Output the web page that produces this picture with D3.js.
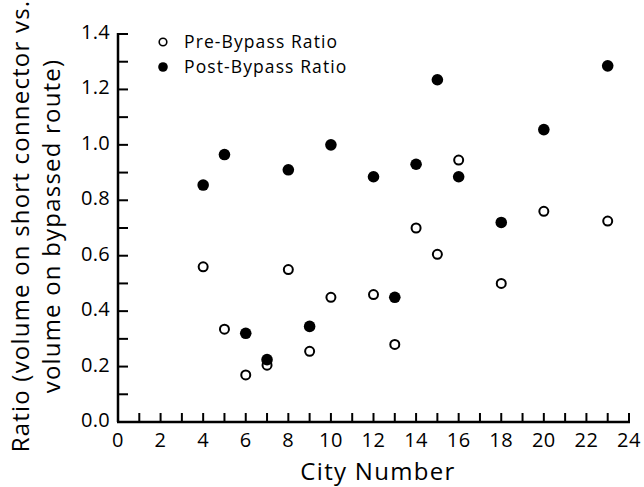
<!DOCTYPE html>
<html><head><meta charset="utf-8">
<script src="https://cdn.jsdelivr.net/npm/d3@7"></script>
<style>body{margin:0;background:#fff}svg{display:block}text{font-family:"Open Sans",sans-serif;fill:#000}</style>
</head><body><svg id="c" width="644" height="487"></svg>
<script>
const cities = [4,5,6,7,8,9,10,12,13,14,15,16,18,20,23];
const preBypass  = [0.56,0.335,0.17,0.205,0.55,0.255,0.45,0.46,0.28,0.70,0.605,0.945,0.50,0.76,0.725];
const postBypass = [0.855,0.965,0.32,0.225,0.91,0.345,1.00,0.885,0.45,0.93,1.235,0.885,0.72,1.055,1.285];
const xTickLabels = [0,2,4,6,8,10,12,14,16,18,20,22,24];
const yTickLabels = [0.0,0.2,0.4,0.6,0.8,1.0,1.2,1.4];
const seriesNames = ["Pre-Bypass Ratio","Post-Bypass Ratio"];

const svg = d3.select("#c");
const x = d3.scaleLinear().domain([0,24]).range([118,629]);
const y = d3.scaleLinear().domain([0,1.4]).range([422,34]);

const g = svg.append("g");
g.append("line").attr("x1",x(0)-1).attr("x2",x(24)+1).attr("y1",y(0)).attr("y2",y(0)).attr("stroke","#000").attr("stroke-width",2.5);
g.append("line").attr("x1",x(0)).attr("x2",x(0)).attr("y1",y(0)).attr("y2",y(1.4)-1).attr("stroke","#000").attr("stroke-width",2.5);
g.selectAll(".xt").data(d3.range(1,25)).enter().append("line")
  .attr("x1",d=>x(d)).attr("x2",d=>x(d)).attr("y1",y(0)).attr("y2",y(0)-9)
  .attr("stroke","#000").attr("stroke-width",2);
g.selectAll(".yt").data(d3.range(1,15).map(d=>d/10)).enter().append("line")
  .attr("x1",x(0)).attr("x2",x(0)+10).attr("y1",d=>y(d)).attr("y2",d=>y(d))
  .attr("stroke","#000").attr("stroke-width",2);
g.selectAll(".xl").data(xTickLabels).enter().append("text")
  .attr("x",d=>x(d)).attr("y",447).attr("text-anchor","middle").attr("font-size",20).attr("letter-spacing",0.5).text(d=>d);
g.selectAll(".yl").data(yTickLabels).enter().append("text")
  .attr("x",110).attr("y",d=>y(d)+5).attr("text-anchor","end").attr("font-size",20).attr("letter-spacing",0.3).text(d=>d.toFixed(1));
svg.append("text").attr("x",378).attr("y",480).attr("text-anchor","middle").attr("font-size",24).attr("letter-spacing",1.3).text("City Number");
const yl = svg.append("text").attr("transform","translate(0,226) rotate(-90)").attr("text-anchor","middle").attr("font-size",24).attr("letter-spacing",1.2);
yl.append("tspan").attr("x",0).attr("y",29).text("Ratio (volume on short connector vs.");
yl.append("tspan").attr("x",0).attr("y",60).text("volume on bypassed route)");

svg.selectAll(".pre").data(cities).enter().append("circle")
  .attr("cx",d=>x(d)).attr("cy",(d,i)=>y(preBypass[i])).attr("r",4.5)
  .attr("fill","#fff").attr("stroke","#000").attr("stroke-width",2);
svg.selectAll(".post").data(cities).enter().append("circle")
  .attr("cx",d=>x(d)).attr("cy",(d,i)=>y(postBypass[i])).attr("r",5.8)
  .attr("fill","#000");

const lg = svg.append("g");
lg.append("circle").attr("cx",163).attr("cy",42).attr("r",3.8).attr("fill","#fff").attr("stroke","#000").attr("stroke-width",1.6);
lg.append("circle").attr("cx",163).attr("cy",67).attr("r",4.8).attr("fill","#000");
lg.append("text").attr("x",184).attr("y",48).attr("font-size",17.5).attr("letter-spacing",1.1).text(seriesNames[0]);
lg.append("text").attr("x",184).attr("y",73).attr("font-size",17.5).attr("letter-spacing",1.1).text(seriesNames[1]);
</script></body></html>
